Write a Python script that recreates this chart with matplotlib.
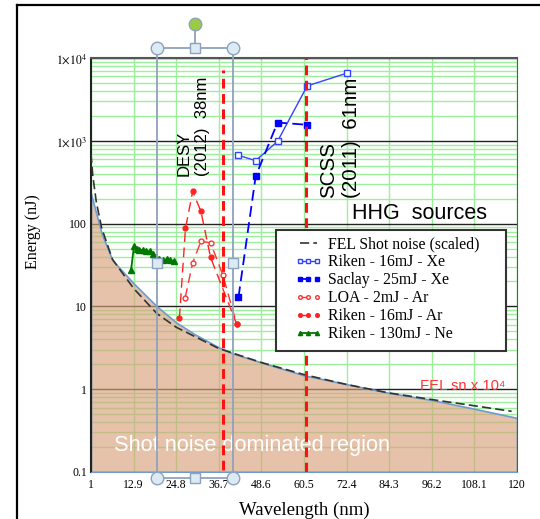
import numpy as np
import matplotlib.pyplot as plt
from matplotlib.patches import Rectangle
from matplotlib.lines import Line2D

plt.rcParams['font.family'] = ['Liberation Serif', 'DejaVu Serif']
plt.rcParams['mathtext.fontset'] = 'stix'

# shot noise dominated region (upper edge of the shaded area)
sn_x = [1, 4, 7, 12.9, 19.4, 24.8, 30, 36.7, 40.6, 48.6, 60.5, 72.4, 84.3, 96.2, 108.1, 120]
sn_y = [230, 75, 36, 19, 10, 6.4, 4.6, 3.2, 2.7, 2.1, 1.47, 1.15, 0.9, 0.74, 0.58, 0.45]

# FEL shot noise (scaled)
fel_x = [1, 1.5, 2.5, 4, 7, 12.9, 19.4, 24.8, 36.7, 48.6, 60.5, 72.4, 84.3, 96.2, 108.1, 118.5]
fel_y = [700, 380, 180, 88, 37, 16.5, 8.2, 5.6, 3.1, 2.1, 1.5, 1.14, 0.9, 0.75, 0.63, 0.54]

# HHG sources
riken_xe_x = [42.0, 47.0, 53.1, 61.4, 72.6]
riken_xe_y = [672, 575, 983, 4600, 6580]
saclay_x = [42.2, 47.0, 53.1, 61.4]
saclay_y = [12.9, 372, 1660, 1560]
loa_x = [27.3, 29.4, 31.7, 34.4, 37.8, 41.7]
loa_y = [12.7, 33.6, 61, 58.6, 24.1, 6.1]
riken_ar_x = [25.7, 27.4, 29.4, 31.7, 34.4, 41.7]
riken_ar_y = [7.2, 87.8, 244, 141, 39, 6.1]
riken_ne_x = [12.2, 13.0, 13.8, 14.5, 15.4, 16.4, 17.5, 18.4, 19.2, 20.1, 21.2, 22.1, 23.1, 24.2]
riken_ne_y = [27.6, 53.3, 49.6, 48.6, 48, 47, 46, 43, 39, 37, 36.5, 37, 36.5, 35]

# FEL facilities
desy_nm = 38
scss_nm = 61

xticks = [1, 12.9, 24.8, 36.7, 48.6, 60.5, 72.4, 84.3, 96.2, 108.1, 120]
yticks = [0.1, 1, 10, 100, 1000, 10000]
ylabels = ['0.1', '1', '10', '100', r'$1{\times}10^{3}$', r'$1{\times}10^{4}$']

fig = plt.figure(figsize=(5.4, 5.19), dpi=100)
ax = fig.add_axes([0.1685, 0.0906, 0.7889, 0.7977])

ax.set_yscale('log')
ax.set_xlim(1, 120)
ax.set_ylim(0.1, 10000)
ax.set_xticks(xticks)
ax.set_xticklabels([str(t) for t in xticks])
ax.set_yticks(yticks)
ax.set_yticklabels(ylabels)
ax.tick_params(which='both', length=0, labelsize=8.5)
ax.tick_params(axis='x', pad=5)
ax.tick_params(axis='y', pad=3)

# grid
ax.set_axisbelow(True)
ax.yaxis.set_minor_locator(plt.LogLocator(base=10, subs=np.arange(2, 10)))
ax.yaxis.set_minor_formatter(plt.NullFormatter())
ax.grid(which='minor', axis='y', color='#9cf09c', lw=1)
ax.grid(which='major', axis='y', color='#222222', lw=1)
ax.grid(which='major', axis='x', color='#9cf09c', lw=1)

ax.spines['left'].set_color('#222222')
ax.spines['left'].set_linewidth(1.5)
ax.spines['top'].set_color('#555555')
ax.spines['top'].set_linewidth(1.5)
ax.spines['right'].set_color('#446644')
ax.spines['bottom'].set_color('#6e9bd0')

# shaded region
ax.fill_between(sn_x, sn_y, 0.1, facecolor=(215/255, 162/255, 123/255, 0.65),
                edgecolor='#6e9bd0', lw=1.2, zorder=2)
ax.text(7.4, 0.21, 'Shot noise dominated region', family='Liberation Sans',
        fontsize=15.7, color='white', va='center', zorder=3)

l0, = ax.plot(fel_x, fel_y, color='#333333', lw=1.2, dashes=(5.5, 2.5), zorder=4,
              label='FEL Shot noise (scaled)')
l1, = ax.plot(riken_xe_x, riken_xe_y, color='#3344ff', lw=1, marker='s', ms=4,
              mfc='white', mew=1, zorder=5, label='Riken - 16mJ - Xe')
l2, = ax.plot(saclay_x, saclay_y, color='#0000ff', lw=1.3, dashes=(6, 3), marker='s',
              ms=4.5, zorder=5, label='Saclay - 25mJ - Xe')
l3, = ax.plot(loa_x, loa_y, color='#ff3333', lw=1, dashes=(7, 4), marker='o', ms=3.5,
              mfc='white', mew=1, zorder=5, label='LOA - 2mJ - Ar')
l4, = ax.plot(riken_ar_x, riken_ar_y, color='#ff2222', lw=1, dashes=(7, 4), marker='o',
              ms=3.5, zorder=5, label='Riken - 16mJ - Ar')
l5, = ax.plot(riken_ne_x, riken_ne_y, color='#007700', lw=1.3, marker='^', ms=4,
              zorder=5, label='Riken - 130mJ - Ne')

# FEL wavelengths
ax.axvline(desy_nm, ymin=0.005, ymax=0.971, color='#ff1111', lw=2.2, dashes=(3.2, 1.8), zorder=6)
ax.axvline(scss_nm, color='#ff1111', lw=2.2, dashes=(3.2, 1.8), zorder=6)

ax.text(29.5, 380, 'DESY\n(2012)  38nm', rotation=90, family='Liberation Sans',
        fontsize=12, ha='center', va='bottom', multialignment='left', linespacing=1.25)
ax.text(70.5, 205, 'SCSS\n(2011)  61nm', rotation=90, family='Liberation Sans',
        fontsize=14.8, ha='center', va='bottom', multialignment='left', linespacing=1.3)
ax.text(73.9, 132, 'HHG  sources', family='Liberation Sans', fontsize=15.5, va='center')
ax.text(92.9, 1.09, 'FEL sn x 10⁴', family=['Liberation Sans', 'DejaVu Sans'],
        fontsize=10.7, color='#ff3333', va='center')

ax.set_xlabel('Wavelength (nm)', fontsize=13.5, labelpad=8)
ax.set_ylabel('Energy (nJ)', fontsize=11.5)
ax.yaxis.set_label_coords(-0.117, 0.58)

# selected text box outline (handles)
xt = ax.get_xaxis_transform()
hc = '#8ea2bd'
box_l, box_r = 19.4, 40.7
box_m = (box_l + box_r) / 2
for bx in [box_l, box_r]:
    ax.plot([bx, bx], [-0.015, 1.024], color=hc, lw=1.3, transform=xt, clip_on=False, zorder=7)
for by in [-0.015, 1.024]:
    ax.plot([box_l, box_r], [by, by], color=hc, lw=1.3, transform=xt, clip_on=False, zorder=7)
    ax.plot([box_l, box_r], [by, by], ls='none', marker='o', ms=9, mfc='#dcebf3',
            mec=hc, mew=1, transform=xt, clip_on=False, zorder=8)
    ax.plot([box_m], [by], ls='none', marker='s', ms=7, mfc='#dcebf3',
            mec=hc, mew=1, transform=xt, clip_on=False, zorder=8)
ax.plot([box_l, box_r], [0.505, 0.505], ls='none', marker='s', ms=7, mfc='#dcebf3',
        mec=hc, mew=1, transform=xt, clip_on=False, zorder=8)
ax.plot([box_m, box_m], [1.024, 1.082], color=hc, lw=1.3, transform=xt, clip_on=False, zorder=7)
ax.plot([box_m], [1.082], ls='none', marker='o', ms=9, mfc='#99cc44', mec=hc, mew=1,
        transform=xt, clip_on=False, zorder=8)

# legend with its own box
fig.add_artist(Rectangle((276/540, 1 - 351/519), 230/540, 121/519, transform=fig.transFigure,
                         facecolor='white', edgecolor='#333333', lw=1.5, zorder=1))
leg = fig.legend(handles=[l0, l1, l2, l3, l4, l5], loc='upper left',
                 bbox_to_anchor=(295/540, 1 - 236/519), frameon=False, fontsize=11.3,
                 numpoints=3, markerscale=0.75, handlelength=1.7, handletextpad=0.4,
                 labelspacing=0.13, borderpad=0, borderaxespad=0)
leg.set_zorder(5)

# outer frame
fig.add_artist(Line2D([17/540, 17/540], [0, 1 - 5/519], color='black', lw=1.6))
fig.add_artist(Line2D([17/540, 1], [1 - 5/519, 1 - 5/519], color='black', lw=1.6))

fig.savefig('out.png', dpi=100)
